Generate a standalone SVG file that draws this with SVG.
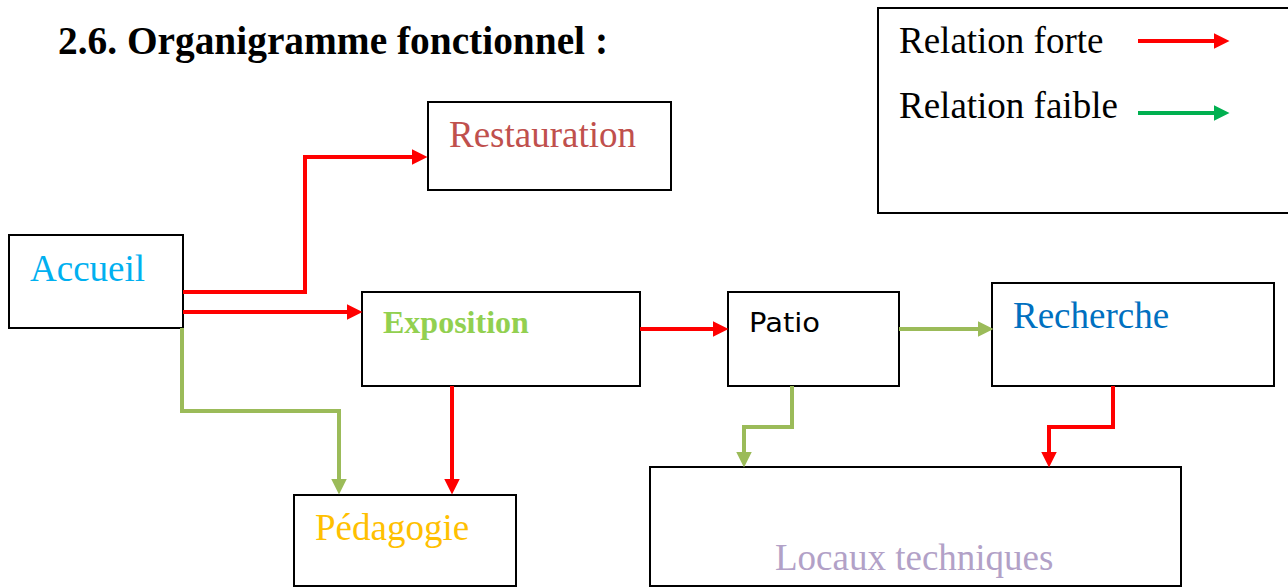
<svg xmlns="http://www.w3.org/2000/svg" width="1288" height="588" viewBox="0 0 1288 588">
<style>
.box{fill:#fff;stroke:#000;stroke-width:2}
.t{font-family:"Liberation Serif","Times New Roman",serif;font-size:37px}
.red{fill:none;stroke:#FF0000;stroke-width:4}
.grn{fill:none;stroke:#9BBB59;stroke-width:4}
.lgrn{fill:none;stroke:#00B050;stroke-width:4}
</style>
<defs>
<marker id="ar" markerUnits="userSpaceOnUse" markerWidth="16" markerHeight="16" viewBox="0 0 15 15" refX="7" refY="7.5" orient="auto"><path d="M0,0 L15,7.5 L0,15 z" fill="#FF0000"/></marker>
<marker id="ag" markerUnits="userSpaceOnUse" markerWidth="16" markerHeight="16" viewBox="0 0 15 15" refX="7" refY="7.5" orient="auto"><path d="M0,0 L15,7.5 L0,15 z" fill="#9BBB59"/></marker>
<marker id="alg" markerUnits="userSpaceOnUse" markerWidth="16" markerHeight="16" viewBox="0 0 15 15" refX="7" refY="7.5" orient="auto"><path d="M0,0 L15,7.5 L0,15 z" fill="#00B050"/></marker>
</defs>
<rect width="1288" height="588" fill="#fff"/>
<text x="58" y="54" font-family="Liberation Serif, serif" font-weight="bold" font-size="39" textLength="550" lengthAdjust="spacingAndGlyphs" fill="#000">2.6. Organigramme fonctionnel :</text>

<g id="legend">
<rect class="box" x="878" y="8" width="420" height="205"/>
<text class="t" x="899" y="53" fill="#000">Relation forte</text>
<text class="t" x="899" y="118" fill="#000">Relation faible</text>
<path class="red" d="M1138,41 H1221" marker-end="url(#ar)"/>
<path class="lgrn" d="M1138,113 H1221" marker-end="url(#alg)"/>
</g>

<g id="restauration">
<rect class="box" x="428" y="102" width="243" height="88"/>
<text class="t" x="449" y="147" fill="#C0504D">Restauration</text>
</g>
<g id="accueil">
<rect class="box" x="9" y="235" width="174" height="93"/>
<text class="t" x="30" y="281" fill="#00B0F0">Accueil</text>
</g>
<g id="exposition">
<rect class="box" x="362" y="292" width="278" height="94"/>
<text x="383" y="333" font-family="Liberation Serif, serif" font-weight="bold" font-size="32" fill="#92D050">Exposition</text>
</g>
<g id="patio">
<rect class="box" x="728" y="292" width="171" height="94"/>
<text x="749" y="332" font-family="DejaVu Sans, sans-serif" font-size="27" textLength="71" lengthAdjust="spacingAndGlyphs" fill="#000">Patio</text>
</g>
<g id="recherche">
<rect class="box" x="992" y="283" width="282" height="103"/>
<text class="t" x="1013" y="328" fill="#0070C0">Recherche</text>
</g>
<g id="pedagogie">
<rect class="box" x="294" y="495" width="222" height="91"/>
<text class="t" x="315" y="540" fill="#FFC000">Pédagogie</text>
</g>
<g id="locaux">
<rect class="box" x="650" y="467" width="531" height="119"/>
<text class="t" x="775" y="570" fill="#B2A1C7">Locaux techniques</text>
</g>

<g id="connectors">
<path class="red" d="M183,292 H305 V157 H419" marker-end="url(#ar)"/>
<path class="red" d="M183,312 H354" marker-end="url(#ar)"/>
<path class="grn" d="M182,328 V411 H339 V486" marker-end="url(#ag)"/>
<path class="red" d="M452,386 V486" marker-end="url(#ar)"/>
<path class="red" d="M640,329 H720" marker-end="url(#ar)"/>
<path class="grn" d="M899,329 H985" marker-end="url(#ag)"/>
<path class="grn" d="M792,386 V427 H744 V459" marker-end="url(#ag)"/>
<path class="red" d="M1113,386 V427 H1049 V459" marker-end="url(#ar)"/>
</g>
</svg>
